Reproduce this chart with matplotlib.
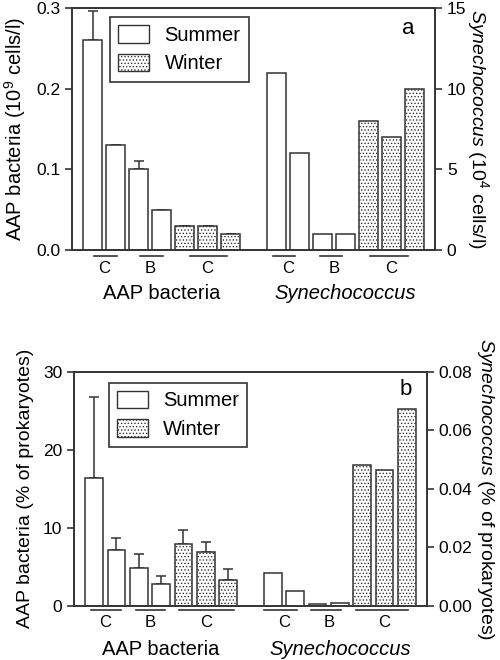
import numpy as np
import matplotlib
matplotlib.use('Agg')
import matplotlib.pyplot as plt
import matplotlib.transforms as mtransforms
from matplotlib.patches import Patch

plt.rcParams['font.family'] = ['Liberation Sans', 'DejaVu Sans']
plt.rcParams['mathtext.fontset'] = 'custom'
plt.rcParams['mathtext.rm'] = 'Liberation Sans'
plt.rcParams['mathtext.it'] = 'Liberation Sans:italic'
plt.rcParams['hatch.linewidth'] = 0.6

# Data
season = ['Summer', 'Summer', 'Summer', 'Summer', 'Winter', 'Winter', 'Winter']
group_labels = ['C', 'B', 'C']
group_bars = [(0, 1), (2, 3), (4, 6)]

# panel a: abundance
aap_cells = [0.26, 0.13, 0.10, 0.05, 0.03, 0.03, 0.02]
aap_cells_err = [0.036, 0, 0.010, 0, 0, 0, 0]
syn_cells = [11.0, 6.0, 1.0, 1.0, 8.0, 7.0, 10.0]

# panel b: percent of prokaryotes
aap_pct = [16.4, 7.1, 4.85, 2.8, 7.95, 6.9, 3.35]
aap_pct_err = [10.4, 1.65, 1.8, 1.0, 1.8, 1.3, 1.4]
syn_pct = [0.0112, 0.0051, 0.0006, 0.0009, 0.0482, 0.0464, 0.0673]

EDGE = '#333333'
x_aap = np.arange(len(aap_cells))
x_syn = np.arange(len(syn_cells)) + len(aap_cells) + 1
width = 0.8


def bars(ax, x, vals, err=None):
    for xi, v, s in zip(x, vals, season):
        hatch = '.....' if s == 'Winter' else None
        ax.bar(xi, v, width, color='white', edgecolor=EDGE, linewidth=1.1,
               hatch=hatch, zorder=2)
    if err is not None:
        ax.errorbar(x, vals, yerr=[np.zeros(len(err)), err], fmt='none',
                    ecolor=EDGE, elinewidth=1.1, capsize=3.3, capthick=1.1,
                    zorder=1)


def groups(ax, offset, spans, y_line, y_txt, y_cat, cat, italic):
    tr = mtransforms.blended_transform_factory(ax.transData, ax.transAxes)
    for lab, (a, b), (lo, hi) in zip(group_labels, group_bars, spans):
        ax.plot([offset + lo, offset + hi], [y_line, y_line], color=EDGE,
                lw=1.2, transform=tr, clip_on=False)
        ax.text(offset + (a + b) / 2, y_txt, lab, transform=tr,
                ha='center', va='center', fontsize=12)
    ax.text(offset + 3, y_cat, cat, transform=tr, ha='center', va='center',
            fontsize=14.5, style='italic' if italic else 'normal')


def style(ax, ax2):
    for a in (ax, ax2):
        for sp in a.spines.values():
            sp.set_linewidth(1.2)
            sp.set_color(EDGE)
        a.tick_params(axis='y', direction='out', length=5, width=1.2,
                      labelsize=12.5, color=EDGE)
    ax.set_xticks([])
    ax.set_xlim(-0.9, 14.9)


def legend(ax, anchor):
    handles = [Patch(facecolor='white', edgecolor=EDGE, label='Summer'),
               Patch(facecolor='white', edgecolor=EDGE, hatch='.....',
                     label='Winter')]
    lg = ax.legend(handles=handles, loc='upper left', bbox_to_anchor=anchor,
                   borderaxespad=0, fancybox=False, edgecolor=EDGE,
                   fontsize=14.5, handlelength=1.55, handleheight=0.95,
                   handletextpad=0.75, borderpad=0.4, labelspacing=0.45,
                   framealpha=1)
    lg.get_frame().set_linewidth(1.2)


fig = plt.figure(figsize=(5, 6.6), dpi=100)

# ---------------- panel a
ax = fig.add_axes([0.144, 0.621, 0.726, 0.367])
ax2 = ax.twinx()
bars(ax, x_aap, aap_cells, aap_cells_err)
bars(ax2, x_syn, syn_cells)
ax.set_ylim(0, 0.3)
ax.set_yticks([0, 0.1, 0.2, 0.3])
ax.set_yticklabels(['0.0', '0.1', '0.2', '0.3'])
ax2.set_ylim(0, 15)
ax2.set_yticks([0, 5, 10, 15])
style(ax, ax2)
ax.set_ylabel(r'AAP bacteria (10$^9$ cells/l)', fontsize=14.5, labelpad=6)
ax2.set_ylabel(r'$\it{Synechococcus}$ (10$^4$ cells/l)', fontsize=14,
               rotation=270, labelpad=18)
groups(ax, 0, [(0.06, 1.05), (2.08, 3.07), (4.23, 5.86)], -0.025, -0.074,
       -0.178, 'AAP bacteria', False)
groups(ax, 8, [(-0.13, 0.82), (1.89, 2.84), (4.08, 5.71)], -0.025, -0.074,
       -0.178, 'Synechococcus', True)
legend(ax, (0.105, 0.962))
ax.text(0.926, 0.917, 'a', transform=ax.transAxes, fontsize=16,
        ha='center', va='center')

# ---------------- panel b
bx = fig.add_axes([0.148, 0.082, 0.706, 0.355])
bx2 = bx.twinx()
bars(bx, x_aap, aap_pct, aap_pct_err)
bars(bx2, x_syn, syn_pct)
bx.set_ylim(0, 30)
bx.set_yticks([0, 10, 20, 30])
bx2.set_ylim(0, 0.08)
bx2.set_yticks([0, 0.02, 0.04, 0.06, 0.08])
bx2.set_yticklabels(['0.00', '0.02', '0.04', '0.06', '0.08'])
style(bx, bx2)
bx.set_ylabel('AAP bacteria (% of prokaryotes)', fontsize=14, labelpad=6)
bx2.set_ylabel(r'$\it{Synechococcus}$ (% of prokaryotes)', fontsize=14,
               rotation=270, labelpad=17)
groups(bx, 0, [(-0.13, 1.2), (1.88, 3.17), (3.8, 6.25)], -0.017, -0.073,
       -0.188, 'AAP bacteria', False)
groups(bx, 8, [(-0.4, 1.06), (1.7, 3.07), (3.74, 6.06)], -0.017, -0.073,
       -0.188, 'Synechococcus', True)
legend(bx, (0.099, 0.953))
bx.text(0.94, 0.925, 'b', transform=bx.transAxes, fontsize=16,
        ha='center', va='center')

fig.savefig('out.png', dpi=100)
